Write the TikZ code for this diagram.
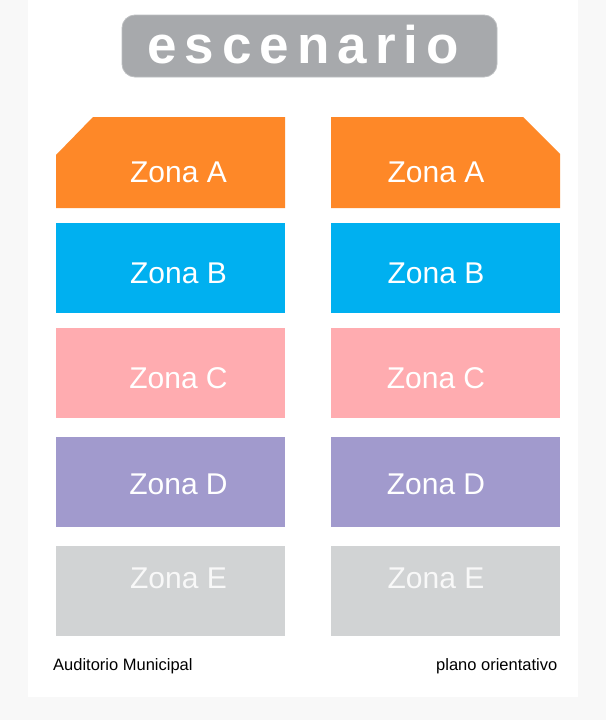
\documentclass[tikz,border=0pt]{standalone}
\usepackage{fontspec}
\setmainfont{Liberation Sans}
\newfontfamily\stagefont[LetterSpace=15.2]{Liberation Sans}
\usepackage{tikz}
\usetikzlibrary{calc}
\definecolor{pagebg}{HTML}{F8F8F8}
\definecolor{stagegray}{HTML}{A7A9AC}
\definecolor{stageline}{HTML}{BDBFC1}
\definecolor{zonaA}{HTML}{FE8828}
\definecolor{zonaB}{HTML}{00B0F0}
\definecolor{zonaC}{HTML}{FFACB0}
\definecolor{zonaD}{HTML}{A19ACD}
\definecolor{zonaE}{HTML}{D1D3D4}
\begin{document}
\begin{tikzpicture}[x=1pt,y=-1pt,
    zone/.style={minimum width=229pt,minimum height=90pt,inner sep=0pt,
      anchor=north west},
    zonetext/.style={text=white,font=\fontsize{30}{36}\selectfont,
      anchor=base,inner sep=0pt},
    foot/.style={font=\fontsize{16.5}{20}\selectfont,inner sep=0pt}]
  \useasboundingbox (0,0) rectangle (606,720);
  \fill[pagebg] (0,0) rectangle (606,720);
  \fill[white] (28,0) rectangle (578,697);

  % escenario
  \node[fill=stagegray,draw=stageline,line width=0.8pt,rounded corners=13pt,
    minimum width=375pt,minimum height=62pt] (stage) at (309.5,46) {};
  \node[text=white,anchor=base west,inner sep=0pt,
    font=\stagefont\bfseries\fontsize{53}{60}\selectfont] (stagetext)
    at (147,63.5) {escenario};

  % zona A (chaflan)
  \fill[zonaA] (56,155) -- (93,117) -- (285,117) -- (285,208) -- (56,208) -- cycle;
  \fill[zonaA] (331,117) -- (523,117) -- (560,154) -- (560,208) -- (331,208) -- cycle;
  \node[zonetext] (a1) at (178.5,182.5) {Zona A};
  \node[zonetext] (a2) at (436,182.5) {Zona A};

  \node[zone,fill=zonaB] (b1) at (56,223) {};
  \node[zone,fill=zonaB] (b2) at (331,223) {};
  \node[zonetext] (tb1) at (178.5,283.5) {Zona B};
  \node[zonetext] (tb2) at (436,283.5) {Zona B};

  \node[zone,fill=zonaC] (c1) at (56,328) {};
  \node[zone,fill=zonaC] (c2) at (331,328) {};
  \node[zonetext] (tc1) at (178.5,388.5) {Zona C};
  \node[zonetext] (tc2) at (436,388.5) {Zona C};

  \node[zone,fill=zonaD] (d1) at (56,437) {};
  \node[zone,fill=zonaD] (d2) at (331,437) {};
  \node[zonetext] (td1) at (178.5,494.5) {Zona D};
  \node[zonetext] (td2) at (436,494.5) {Zona D};

  \node[zone,fill=zonaE] (e1) at (56,546) {};
  \node[zone,fill=zonaE] (e2) at (331,546) {};
  \node[zonetext,text=pagebg] (te1) at (178.5,588.5) {Zona E};
  \node[zonetext,text=pagebg] (te2) at (436,588.5) {Zona E};

  \node[foot,anchor=base west] (place) at (53,670) {Auditorio Municipal};
  \node[foot,anchor=base east] (note) at (557.5,670) {plano orientativo};
\end{tikzpicture}
\end{document}
